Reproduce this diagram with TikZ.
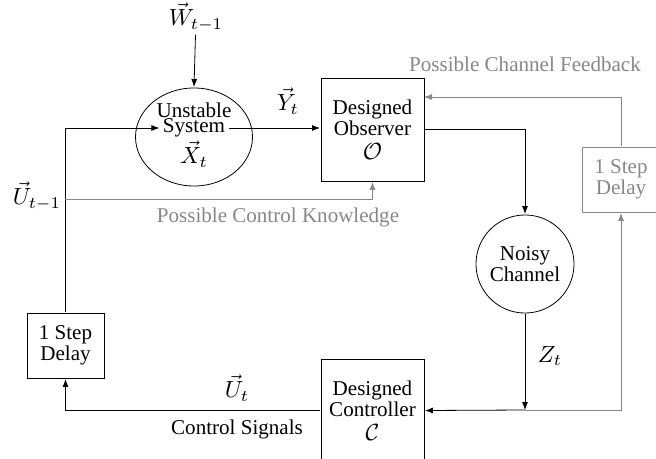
\documentclass[tikz,border=0pt]{standalone}
\usepackage{fontspec}
\setmainfont{Liberation Serif}
\usetikzlibrary{arrows.meta,shapes.geometric,calc}
\definecolor{fbgray}{RGB}{135,135,135}
\DeclareMathSizes{9}{10}{7}{5}
\newcommand\figfont{\fontsize{9}{8.1}\selectfont}
\begin{document}
\begin{tikzpicture}[x=1pt,y=-1pt,
  arr/.style={draw=black,line width=0.8pt,-{Latex[length=8pt,width=6pt]}},
  grayarr/.style={draw=fbgray,line width=0.8pt,-{Latex[length=8pt,width=6pt]}},
  txt/.style={scale=2.34,inner sep=1.3pt,align=center,font=\figfont},
  blockbox/.style={txt,draw,line width=0.8pt,minimum width=44pt,minimum height=44pt,inner sep=0pt},
  delaybox/.style={txt,draw,line width=0.8pt,minimum width=32.9pt,minimum height=27.8pt,inner sep=0pt},
  roundbox/.style={txt,draw,line width=0.8pt,inner sep=0pt}]
\useasboundingbox (0,0) rectangle (656,458);
% nodes
\node[roundbox,ellipse,minimum width=50pt,minimum height=41.9pt] (sys) at (194,137) {};
\node[txt] (sysA) at (194,110) {Unstable};
\node[txt] (systxt) at (194,128) {System};
\node[txt] (sysX) at (194,154) {$\vec X_t$};
\node[txt] (W) at (196,17) {$\vec W_{t-1}$};
\node[blockbox] (obs) at (372.5,129.5) {Designed\\Observer\\[1.8pt]$\mathcal{O}$};
\node[blockbox] (ctrl) at (372.5,410.5) {Designed\\Controller\\[1.8pt]$\mathcal{C}$};
\node[roundbox,circle,minimum size=41.9pt] (chan) at (525,264) {Noisy\\Channel};
\node[delaybox] (ldelay) at (65.5,345.5) {1 Step\\Delay};
\node[delaybox,draw=fbgray,text=fbgray,minimum width=33.3pt] (rdelay) at (621,179.5) {1 Step\\Delay};
% labels
\node[txt] (Yt) at (288,101) {$\vec Y_t$};
\node[txt] (Utm) at (37,196) {$\vec U_{t-1}$};
\node[txt] (Ut) at (237,388) {$\vec U_t$};
\node[txt] (CS) at (237,429) {Control Signals};
\node[txt] (Zt) at (550,356) {$Z_t$};
\node[txt,text=fbgray] (PCF) at (525,64) {Possible Channel Feedback};
\node[txt,text=fbgray] (PCK) at (278,217) {Possible Control Knowledge};
% coordinates
\coordinate (J) at (525,410);
\coordinate (K) at (65,199);
\coordinate (obsfb) at (424,97);
% connectors
\draw[arr] (W) -- (sys.north);
\draw[arr] (ldelay.north) |- (systxt.west);
\draw[arr] (systxt.east) -- (obs.west |- systxt.east);
\draw[arr] (obs.east) -| (chan.north);
\draw[arr] (chan.south) -- (J);
\draw[arr] (J) -- (ctrl.east);
\draw[arr] (ctrl.west) -| (ldelay.south);
\draw[grayarr] (J) -| (rdelay.south);
\draw[grayarr] (rdelay.north) |- (obsfb);
\draw[grayarr] (K) -| (obs.south);
\end{tikzpicture}
\end{document}
